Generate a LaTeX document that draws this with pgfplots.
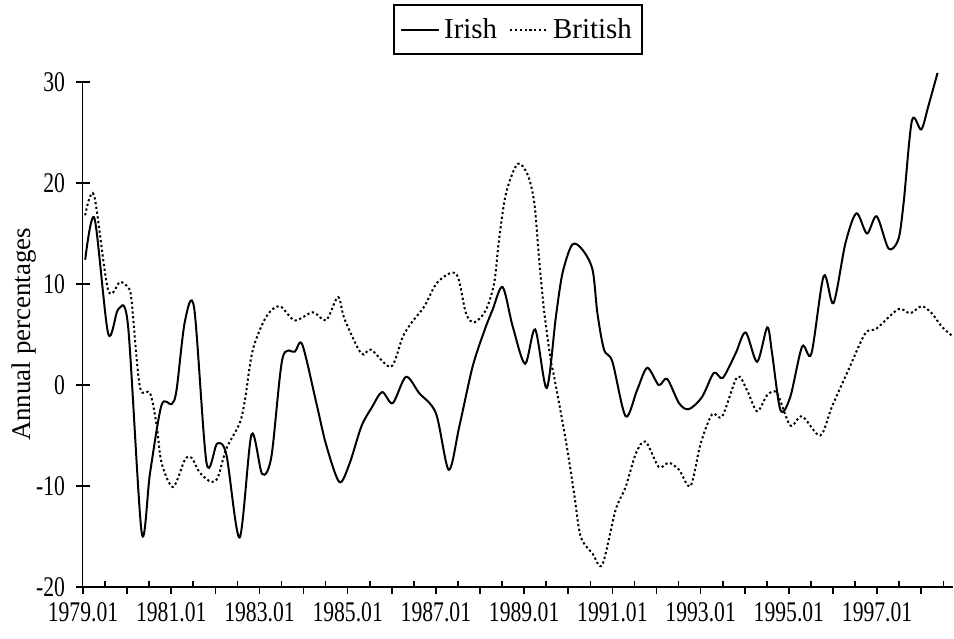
\documentclass[border=0pt]{standalone}
\usepackage{fontspec}
\setmainfont{Liberation Serif}
\newfontfamily\condfont[FakeStretch=0.76]{Liberation Serif}
\usepackage{pgfplots}
\pgfplotsset{compat=1.18}

\pgfplotstableread{
year val
1979.05 12.4
1979.26 16.5
1979.57 5.1
1979.80 7.5
1980.02 5.9
1980.33 -14.6
1980.52 -8.7
1980.78 -2.0
1981.01 -1.9
1981.12 -0.5
1981.31 6.3
1981.52 7.6
1981.80 -7.7
1982.04 -5.8
1982.25 -6.9
1982.55 -15.1
1982.82 -4.9
1983.06 -8.8
1983.27 -7.1
1983.52 2.6
1983.80 3.3
1983.97 4.0
1984.29 -1.8
1984.51 -5.9
1984.81 -9.6
1985.04 -7.8
1985.31 -4.1
1985.55 -2.2
1985.78 -0.7
1986.02 -1.8
1986.32 0.8
1986.62 -0.8
1987.00 -2.8
1987.29 -8.4
1987.53 -4.1
1987.83 1.8
1988.10 5.4
1988.28 7.4
1988.51 9.7
1988.74 5.8
1989.02 2.1
1989.25 5.5
1989.51 -0.3
1989.72 6.8
1989.87 11.1
1990.09 13.9
1990.32 13.4
1990.55 11.4
1990.66 7.1
1990.81 3.5
1991.00 2.3
1991.30 -3.1
1991.56 -0.5
1991.79 1.7
1992.05 0.0
1992.24 0.6
1992.51 -1.8
1992.73 -2.4
1993.03 -1.2
1993.30 1.2
1993.50 0.7
1993.79 3.1
1994.02 5.2
1994.28 2.3
1994.51 5.7
1994.62 3.1
1994.81 -2.5
1995.03 -1.2
1995.30 3.8
1995.51 3.1
1995.79 10.8
1996.01 8.1
1996.28 14.0
1996.53 17.0
1996.77 15.0
1996.99 16.7
1997.26 13.5
1997.48 14.4
1997.60 18.0
1997.79 26.2
1998.00 25.3
1998.16 27.6
1998.37 30.9
}\irish

\pgfplotstableread{
year val
1979.05 16.8
1979.25 18.8
1979.57 9.4
1979.84 10.2
1980.03 9.6
1980.10 8.4
1980.29 -0.2
1980.52 -0.8
1980.67 -4.0
1980.78 -7.7
1981.04 -10.1
1981.31 -7.4
1981.46 -7.2
1981.65 -8.7
1981.91 -9.6
1982.06 -9.1
1982.25 -6.3
1982.55 -3.8
1982.67 -1.5
1982.85 3.5
1983.16 6.8
1983.46 7.8
1983.80 6.4
1984.21 7.2
1984.51 6.4
1984.78 8.7
1984.93 6.5
1985.31 3.1
1985.53 3.5
1985.98 1.8
1986.25 4.8
1986.47 6.3
1986.74 7.8
1987.04 10.2
1987.46 11.0
1987.68 7.1
1987.87 6.2
1988.13 7.4
1988.32 10.1
1988.43 14.4
1988.59 19.0
1988.85 21.9
1989.08 20.8
1989.23 18.0
1989.34 12.4
1989.45 7.4
1989.60 2.5
1989.68 0.8
1989.94 -5.4
1990.13 -10.7
1990.28 -15.0
1990.55 -16.7
1990.77 -17.8
1991.07 -12.4
1991.30 -10.1
1991.53 -6.8
1991.75 -5.6
1992.05 -8.1
1992.28 -7.7
1992.51 -8.4
1992.77 -10.0
1993.00 -5.8
1993.26 -2.9
1993.49 -3.1
1993.83 0.8
1994.05 -0.5
1994.28 -2.6
1994.51 -1.0
1994.73 -0.8
1995.03 -4.0
1995.30 -3.1
1995.71 -5.0
1995.98 -2.1
1996.35 1.5
1996.73 5.1
1996.99 5.6
1997.48 7.5
1997.75 7.1
1998.01 7.8
1998.24 7.1
1998.46 5.8
1998.69 4.9
}\british

\begin{document}
\begin{tikzpicture}
\begin{axis}[
    scale only axis,
    width=435bp, height=252.5bp,
    xmin=1979, xmax=1998.72,
    ymin=-20, ymax=30,
    clip=false,
    axis lines*=left,
    x axis line style={line width=1bp},
    y axis line style={line width=0.5bp},
    tick align=outside,
    major tick length=3.5bp,
    tick style={black, line width=0.8bp},
    xtick={1979,1980,...,1998},
    xticklabels={1979.01,,1981.01,,1983.01,,1985.01,,1987.01,,1989.01,,1991.01,,1993.01,,1995.01,,1997.01,},
    extra x ticks={1979.5,1980.5,...,1998.5},
    extra x tick labels={},
    extra x tick style={tick align=inside, major tick length=3bp},
    ytick={-20,-10,...,30},
    extra y ticks={-20,-10,...,30},
    extra y tick labels={},
    extra y tick style={tick align=inside},
    /pgf/number format/assume math mode=true,
    ticklabel style={font=\condfont\fontsize{14.3}{17}\selectfont},
    xticklabel style={yshift=-1bp},
    yticklabel style={xshift=-2bp},
    ylabel={Annual percentages},
    ylabel style={at={(axis description cs:-0.068,0.5)}, anchor=center,
      font=\fontsize{13.5}{16}\selectfont},
    legend style={at={(0.5,1.103)}, anchor=center, draw=black, line width=1bp,
      legend columns=-1, font=\fontsize{14.5}{17}\selectfont,
      inner xsep=3bp, inner ysep=4.5bp,
      /tikz/every even column/.append style={column sep=4bp}},
    legend image code/.code={\draw[#1] (0bp,0bp) -- (19bp,0bp);},
]
\addplot[black, line width=1bp, smooth, tension=0.5] table[x=year, y=val] {\irish};
\addplot[black, line width=1bp, dash pattern=on 1.1bp off 1.3bp, smooth, tension=0.5] table[x=year, y=val] {\british};
\legend{Irish, British}
\path ([xshift=-41.5bp,yshift=-26bp]rel axis cs:0,0) rectangle ([xshift=0.5bp,yshift=41bp]rel axis cs:1,1);
\end{axis}
\end{tikzpicture}
\end{document}
